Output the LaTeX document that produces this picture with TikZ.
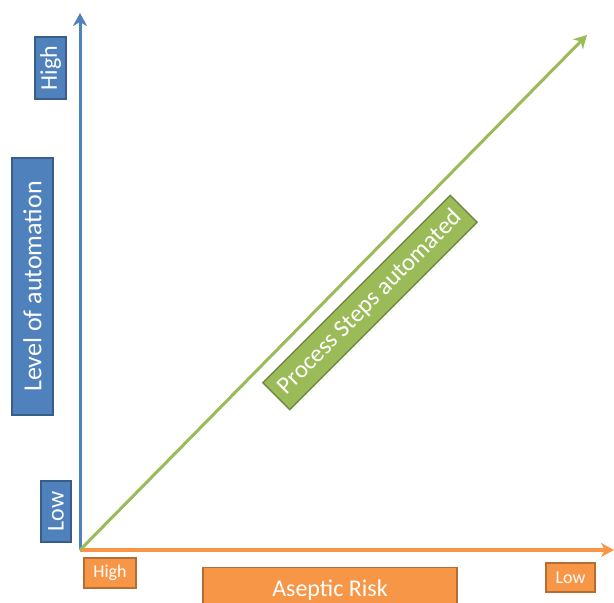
\documentclass[tikz,border=0pt]{standalone}
\usepackage{fontspec}
\setmainfont{Carlito}
\usetikzlibrary{arrows.meta}
\definecolor{axblue}{HTML}{4F81BD}
\definecolor{bdblue}{HTML}{385D8A}
\definecolor{axorange}{HTML}{F79646}
\definecolor{bdorange}{HTML}{B66D31}
\definecolor{axgreen}{HTML}{9BBB59}
\definecolor{bdgreen}{HTML}{71893F}
\begin{document}
\begin{tikzpicture}[x=1pt,y=-1pt,
  tip/.style={-{Stealth[length=13pt,width=14pt,inset=4pt]}},
  lbl/.style={rectangle,text=white,inner sep=0pt,line width=1.3pt,font=\fontsize{24}{26}\selectfont},
  bluebox/.style={lbl,draw=bdblue,fill=axblue},
  orangebox/.style={lbl,draw=bdorange,fill=axorange},
  greenbox/.style={lbl,draw=bdgreen,fill=axgreen}]
\useasboundingbox (0,0) rectangle (614,603);
\clip (0,0) rectangle (614,603);
\coordinate (O) at (80,550);
\coordinate (Ytip) at (80,13);
\coordinate (Xtip) at (614,550);
\coordinate (Gtip) at (587,35);
\draw[tip,axorange,line width=3.5pt] (O) -- (Xtip);
\draw[tip,axblue,line width=3pt] (O) -- (Ytip);
\draw[tip,axgreen,line width=3pt] (O) -- (Gtip);
\node[bluebox,rotate=90,minimum width=62pt,minimum height=31pt] (yhigh) at (50.5,68) {High};
\node[bluebox,rotate=90,minimum width=61pt,minimum height=30pt] (ylow) at (56,511.5) {Low};
\node[bluebox,rotate=90,minimum width=257pt,minimum height=41pt,font=\fontsize{26}{28}\selectfont] (ylab) at (32.5,286.5) {Level of automation};
\node[orangebox,minimum width=52pt,minimum height=30pt,font=\fontsize{18}{20}\selectfont] (xhigh) at (110,573) {High};
\node[orangebox,minimum width=49pt,minimum height=29pt,font=\fontsize{18}{20}\selectfont] (xlow) at (570.5,577.5) {Low};
\node[orangebox,minimum width=254pt,minimum height=48pt,anchor=north] (xlab) at (330,567) {\raisebox{6pt}{Aseptic Risk}};
\node[greenbox,rotate=45,minimum width=265pt,minimum height=38pt,font=\fontsize{24.5}{26}\selectfont] (proc) at (370,302.5) {Process Steps automated};
\end{tikzpicture}
\end{document}
